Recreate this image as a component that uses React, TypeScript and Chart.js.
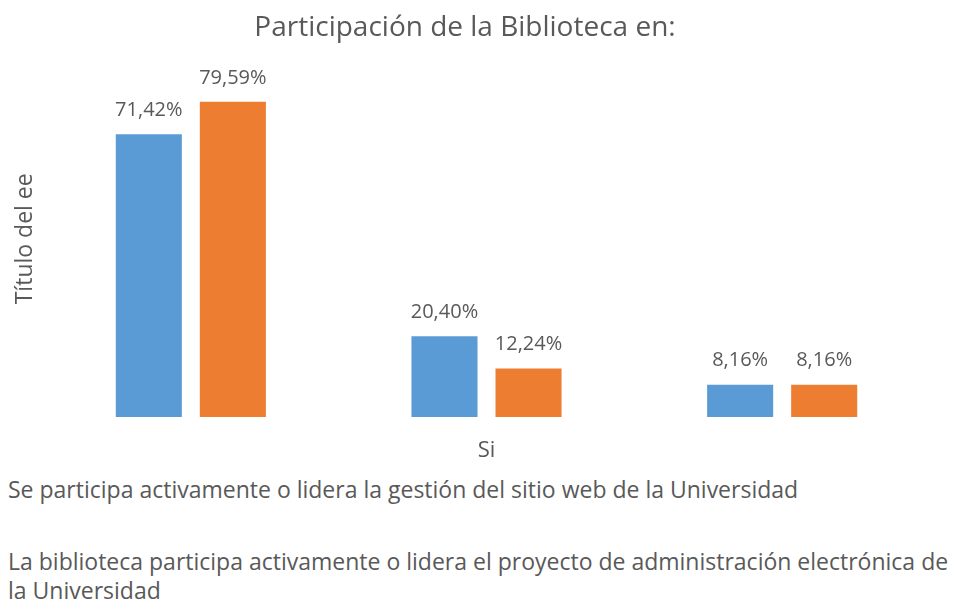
import React, { useEffect, useRef } from "react";
import { Chart, registerables } from "chart.js";

Chart.register(...registerables);

const categories = ["", "Si", ""];
const seriesNames = [
  "Se participa activamente o lidera la gestión del sitio web de la Universidad",
  "La biblioteca participa activamente o lidera el proyecto de administración electrónica de la Universidad",
];
const webValues = [71.42, 20.4, 8.16];
const adminValues = [79.59, 12.24, 8.16];
const colors = ["#5B9BD5", "#ED7D31"];
const FONT = "'Open Sans', sans-serif";
const TEXT = "#595959";

const labelPlugin = {
  id: "barLabels",
  afterDatasetsDraw(chart: any) {
    const ctx = chart.ctx;
    ctx.save();
    ctx.font = `20px ${FONT}`;
    ctx.fillStyle = TEXT;
    ctx.textAlign = "center";
    ctx.textBaseline = "middle";
    chart.data.datasets.forEach((ds: any, di: number) => {
      const meta = chart.getDatasetMeta(di);
      meta.data.forEach((el: any, i: number) => {
        const v = ds.data[i] as number;
        const txt = v.toFixed(2).replace(".", ",") + "%";
        ctx.fillText(txt, el.x, el.y - 24);
      });
    });
    ctx.restore();
  },
};

export default function App() {
  const ref = useRef<HTMLCanvasElement | null>(null);
  useEffect(() => {
    if (!ref.current) return;
    const chart = new Chart(ref.current, {
      type: "bar",
      data: {
        labels: categories,
        datasets: [
          { label: seriesNames[0], data: webValues, backgroundColor: colors[0] },
          { label: seriesNames[1], data: adminValues, backgroundColor: colors[1] },
        ],
      },
      options: {
        animation: false,
        responsive: true,
        maintainAspectRatio: false,
        layout: { padding: { left: 0, right: 36, top: 0, bottom: 0 } },
        datasets: { bar: { categoryPercentage: 0.5685, barPercentage: 0.786 } } as any,
        plugins: {
          legend: { display: false },
          tooltip: { enabled: false },
          title: {
            display: true,
            text: "Participación de la Biblioteca en:",
            color: TEXT,
            font: { family: FONT, size: 28, weight: "normal" as any },
            padding: { top: 11, bottom: 16 },
          },
        },
        scales: {
          x: {
            grid: { display: false, drawTicks: false },
            border: { display: false },
            ticks: { color: TEXT, font: { family: FONT, size: 22 }, padding: 21 },
            afterFit: (s: any) => { s.height = 53; },
          },
          y: {
            min: 0,
            max: 90,
            grid: { display: false, drawTicks: false },
            border: { display: false },
            ticks: { display: false },
            title: {
              display: true,
              text: "Título del ee",
              color: TEXT,
              font: { family: FONT, size: 23 },
              padding: { top: 12, bottom: 0 },
            },
            afterFit: (s: any) => { s.width = 43; },
          },
        },
      },
      plugins: [labelPlugin],
    });
    return () => chart.destroy();
  }, []);

  const legendStyle: React.CSSProperties = {
    position: "absolute",
    left: 8,
    width: 958,
    fontFamily: FONT,
    fontSize: 23,
    lineHeight: "29px",
    color: TEXT,
  };

  return (
    <div style={{ position: "absolute", left: 0, top: 0, width: 966, height: 601, background: "#fff" }}>
      <div style={{ position: "absolute", left: 0, top: 0, width: 966, height: 470 }}>
        <canvas ref={ref} />
      </div>
      <div style={{ ...legendStyle, top: 475 }}>{seriesNames[0]}</div>
      <div style={{ ...legendStyle, top: 547 }}>{seriesNames[1]}</div>
    </div>
  );
}
